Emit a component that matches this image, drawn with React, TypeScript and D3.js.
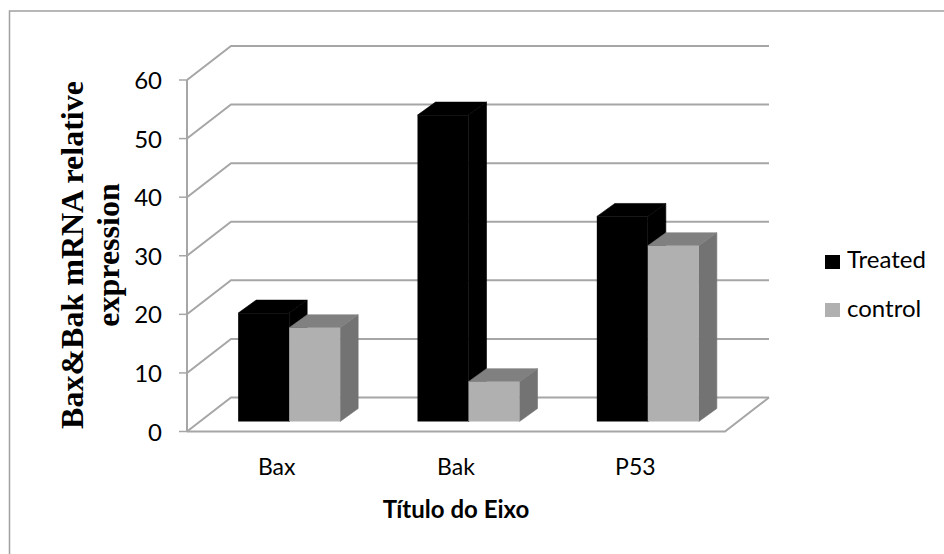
import React from 'react';
import * as d3 from 'd3';

const categories = ['Bax', 'Bak', 'P53'];
const seriesNames = ['Treated', 'control'];
const treated = [18.5, 52.3, 35];
const control = [16, 6.8, 30];
const yTicks = [0, 10, 20, 30, 40, 50, 60];

const width = 944;
const height = 554;

// plot box of the front wall
const x0 = 187;
const x1 = 725;
const yBottom = 431.5;
const yTop = 80;
const wallDx = 44;
const wallDy = -34;
const barDx = 18;
const barDy = -13;
const barShift = 12.5;
const barLift = 10;

const y = d3.scaleLinear().domain([0, 60]).range([yBottom, yTop]);
const xBand = d3.scaleBand<string>().domain(categories).range([x0, x1]);
const xSeries = d3.scaleBand<string>().domain(seriesNames).range([0, 102]);

const colors: Record<string, {front: string; top: string; side: string}> = {
    Treated: {front: '#000000', top: '#000000', side: '#000000'},
    control: {front: '#b0b0b0', top: '#808080', side: '#737373'},
};

const line = d3.line();
const gridColor = '#a6a6a6';
const labelFont = 'Lato, "Open Sans", sans-serif';

export default function App() {
    const bars = categories.flatMap((cat, i) =>
        seriesNames.map((name, s) => ({
            cat,
            name,
            value: s === 0 ? treated[i] : control[i],
        })),
    );

    return (
        <div style={{position: 'absolute', left: 0, top: 0}}>
            <svg width={width} height={height} style={{display: 'block'}}>
                <defs>
                    <filter id="soft" x="-5%" y="-5%" width="110%" height="110%">
                        <feGaussianBlur stdDeviation="0.5" />
                    </filter>
                </defs>
                <rect width={width} height={height} fill="#fff" />
                {/* chart frame, only left and top edges are in view */}
                <path d={line([[9.5, height], [9.5, 11], [width, 11]]) || ''} fill="none" stroke="#a0a0a0" strokeWidth={1.5} />

                <g filter="url(#soft)">
                    {/* back wall gridlines with the slanted side wall */}
                    {yTicks.map(t => (
                        <path
                            key={t}
                            d={line([
                                [x0, y(t)],
                                [x0 + wallDx, y(t) + wallDy],
                                [x1 + wallDx, y(t) + wallDy],
                            ]) || ''}
                            fill="none"
                            stroke={gridColor}
                            strokeWidth={2}
                        />
                    ))}
                    {/* floor */}
                    <path
                        d={line([
                            [x1 + wallDx, yBottom + wallDy],
                            [x1, yBottom],
                            [x0, yBottom],
                        ]) || ''}
                        fill="none"
                        stroke={gridColor}
                        strokeWidth={2}
                    />
                    {/* y axis */}
                    <line x1={x0} x2={x0} y1={yTop} y2={yBottom} stroke={gridColor} strokeWidth={2} />
                    {yTicks.map(t => (
                        <line key={t} x1={x0 - 8} x2={x0} y1={y(t)} y2={y(t)} stroke={gridColor} strokeWidth={1.5} />
                    ))}

                    {bars.map(b => {
                        const left = (xBand(b.cat) || 0) + barShift + (xBand.bandwidth() - 102) / 2 + (xSeries(b.name) || 0);
                        const w = xSeries.bandwidth();
                        const base = y(0) - barLift;
                        const top = y(b.value) - barLift;
                        const c = colors[b.name];
                        return (
                            <g key={b.cat + b.name}>
                                <path
                                    d={(line([
                                        [left + w, base],
                                        [left + w + barDx, base + barDy],
                                        [left + w + barDx, top + barDy],
                                        [left + w, top],
                                    ]) || '') + 'Z'}
                                    fill={c.side}
                                    stroke={c.side}
                                    strokeWidth={0.6}
                                />
                                <path
                                    d={(line([
                                        [left, top],
                                        [left + barDx, top + barDy],
                                        [left + w + barDx, top + barDy],
                                        [left + w, top],
                                    ]) || '') + 'Z'}
                                    fill={c.top}
                                    stroke={c.top}
                                    strokeWidth={0.6}
                                />
                                <rect x={left} y={top} width={w} height={base - top} fill={c.front} />
                            </g>
                        );
                    })}
                </g>

                {/* y tick labels */}
                {yTicks.map(t => (
                    <text key={t} x={162} y={y(t) + 9} textAnchor="end" fontFamily={labelFont} fontSize={24} fill="#000">
                        {t}
                    </text>
                ))}

                {/* category labels */}
                {categories.map(cat => (
                    <text
                        key={cat}
                        x={(xBand(cat) || 0) + xBand.bandwidth() / 2}
                        y={475}
                        textAnchor="middle"
                        fontFamily={labelFont}
                        fontSize={23}
                        fill="#000"
                    >
                        {cat}
                    </text>
                ))}

                <text x={456} y={518} textAnchor="middle" fontFamily={labelFont} fontWeight="bold" fontSize={24} fill="#000">
                    Título do Eixo
                </text>

                {/* y axis title */}
                <g transform="translate(83,255) rotate(-90)" fontFamily='"Liberation Serif", serif' fontWeight="bold" fontSize={32} fill="#000" textAnchor="middle">
                    <text x={0} y={0}>Bax&amp;Bak mRNA relative</text>
                    <text x={0} y={36}>expression</text>
                </g>

                {/* legend */}
                {seriesNames.map((name, i) => (
                    <g key={name}>
                        <rect x={825} y={255 + i * 48} width={15} height={14} fill={colors[name].front} />
                        <text x={847} y={268 + i * 48.5} fontFamily={labelFont} fontSize={24} fill="#000">
                            {name}
                        </text>
                    </g>
                ))}
            </svg>
        </div>
    );
}
